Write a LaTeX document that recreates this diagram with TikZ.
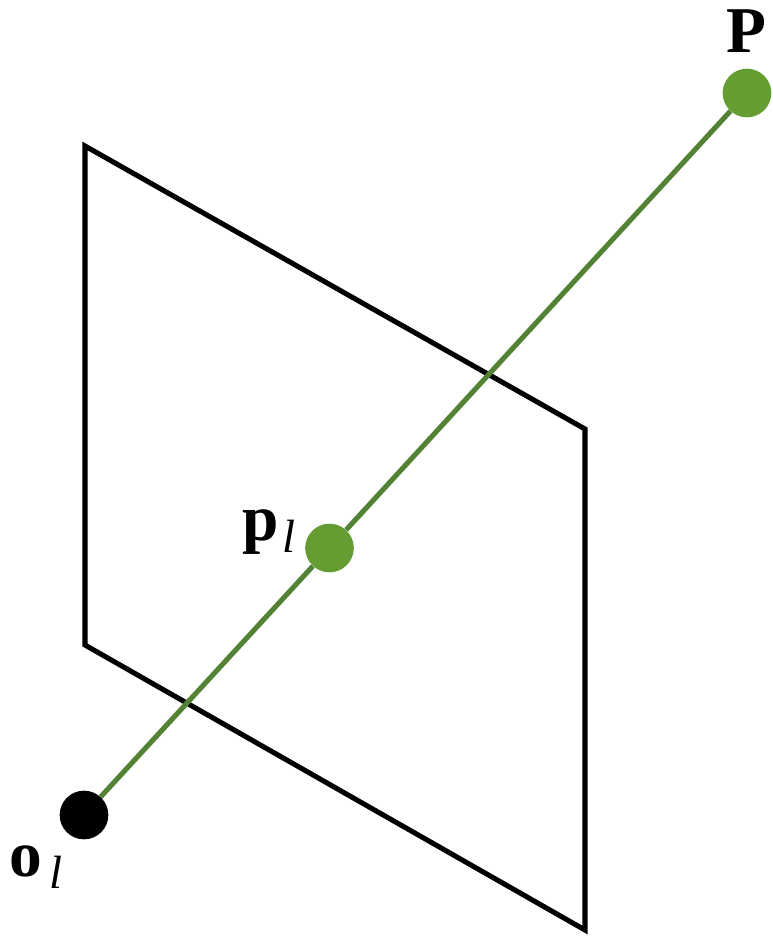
\documentclass[tikz,border=0pt]{standalone}
\usepackage{fontspec}
\setmainfont{Liberation Serif}
\definecolor{ptgreen}{HTML}{659D32}
\definecolor{raygreen}{HTML}{548235}
\newcommand{\lblmain}[1]{\fontsize{49}{49}\selectfont\bfseries #1}
\newcommand{\lblsub}[1]{\hspace{#1}\raisebox{-9.5pt}{\fontsize{35}{35}\selectfont\mdseries\itshape l}}
\tikzset{
  plane/.style={draw=black,line width=3.8pt,line join=miter,line cap=round},
  ray/.style={draw=raygreen,line width=3.8pt},
  dot/.style={circle,inner sep=0pt,minimum size=36.5pt,fill=#1},
  lbl/.style={inner sep=0pt,text=black,anchor=base west}
}
\begin{document}
\begin{tikzpicture}[x=0.75pt,y=-0.75pt]
\useasboundingbox (0,0) rectangle (772,936);
\coordinate (A) at (85,146);
\coordinate (B) at (585,429);
\coordinate (C) at (585,930);
\coordinate (D) at (85,645);
\draw[plane] (A) -- (B) -- (C) -- (D) -- cycle;
\node[dot=black] (O) at (84,815) {};
\node[dot=ptgreen] (P) at (747,93) {};
\node[dot=ptgreen] (M) at (329.5,548) {};
\draw[ray] (O) -- (M);
\draw[ray] (M) -- (P);
\node[lbl] (lP) at (726,52.5) {\lblmain{P}};
\node[lbl] (lM) at (242,540) {\lblmain{p}\lblsub{3pt}};
\node[lbl] (lO) at (9,876) {\lblmain{o}\lblsub{6pt}};
\end{tikzpicture}
\end{document}
